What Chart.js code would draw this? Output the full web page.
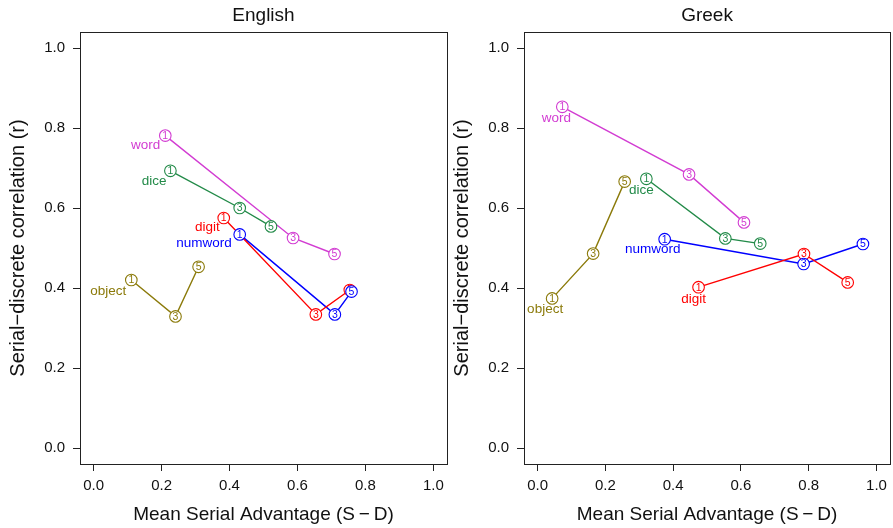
<!DOCTYPE html>
<html>
<head>
<meta charset="utf-8">
<script src="https://cdn.jsdelivr.net/npm/chart.js@4.4.1/dist/chart.umd.min.js"></script>
<style>
  html, body { margin: 0; padding: 0; background: #ffffff; }
  #wrap { position: relative; width: 893px; height: 528px; overflow: hidden; background: #fff; }
  canvas { position: absolute; top: 0; }
</style>
</head>
<body>
<div id="wrap">
  <canvas id="cEn" width="460" height="528" style="left:0px;width:460px;height:528px"></canvas>
  <canvas id="cGr" width="453" height="528" style="left:440px;width:453px;height:528px"></canvas>
</div>
<script>
// ---------- data ----------
const conditions = ["word", "dice", "digit", "numword", "object"];
const pointNumbers = ["1", "3", "5"];
const xTicks = [0.0, 0.2, 0.4, 0.6, 0.8, 1.0];
const yTicks = [0.0, 0.2, 0.4, 0.6, 0.8, 1.0];

// English panel
const enWordX    = [0.211, 0.587, 0.709];
const enWordY    = [0.781, 0.525, 0.485];
const enDiceX    = [0.226, 0.430, 0.522];
const enDiceY    = [0.693, 0.600, 0.554];
const enDigitX   = [0.383, 0.654, 0.754];
const enDigitY   = [0.575, 0.334, 0.395];
const enNumwordX = [0.430, 0.710, 0.759];
const enNumwordY = [0.534, 0.334, 0.391];
const enObjectX  = [0.111, 0.241, 0.309];
const enObjectY  = [0.420, 0.329, 0.453];

// Greek panel
const grWordX    = [0.073, 0.447, 0.609];
const grWordY    = [0.853, 0.684, 0.564];
const grDiceX    = [0.321, 0.554, 0.657];
const grDiceY    = [0.673, 0.524, 0.511];
const grDigitX   = [0.475, 0.786, 0.915];
const grDigitY   = [0.402, 0.485, 0.414];
const grNumwordX = [0.375, 0.785, 0.960];
const grNumwordY = [0.522, 0.460, 0.510];
const grObjectX  = [0.043, 0.164, 0.257];
const grObjectY  = [0.374, 0.486, 0.666];

// ---------- styles ----------
const colors = {
  word: "#D23CD2",
  dice: "#228A48",
  digit: "#FF0000",
  numword: "#0000FF",
  object: "#8B7A0A"
};
const FONT = "'Liberation Sans', Arial, Helvetica, sans-serif";

function buildDatasets(series) {
  return conditions.map(name => {
    const xs = series[name][0], ys = series[name][1];
    return {
      label: name,
      data: xs.map((x, i) => ({ x: x, y: ys[i] })),
      showLine: true,
      borderColor: colors[name],
      backgroundColor: colors[name],
      borderWidth: 1.4,
      pointRadius: 0,
      pointHoverRadius: 0,
      tension: 0,
      clip: false
    };
  });
}

const panelPlugin = {
  id: 'panel',
  afterDatasetsDraw(chart, args, opts) {
    const ctx = chart.ctx;
    const n = chart.data.datasets.length;
    for (let d = 0; d < n; d++) {
      const ds = chart.data.datasets[d];
      const meta = chart.getDatasetMeta(d);
      meta.data.forEach((pt, i) => {
        ctx.save();
        ctx.beginPath();
        ctx.arc(pt.x, pt.y, 5.8, 0, Math.PI * 2);
        ctx.fillStyle = '#ffffff';
        ctx.fill();
        ctx.lineWidth = 1.1;
        ctx.strokeStyle = ds.borderColor;
        ctx.stroke();
        ctx.fillStyle = ds.borderColor;
        ctx.font = "10.5px " + FONT;
        ctx.textAlign = 'center';
        ctx.textBaseline = 'middle';
        ctx.fillText(pointNumbers[i], pt.x, pt.y + 0.5);
        ctx.restore();
      });
      const lab = opts.labels[ds.label];
      const p0 = meta.data[0];
      ctx.save();
      ctx.fillStyle = ds.borderColor;
      ctx.font = "13.5px " + FONT;
      ctx.textAlign = opts.labelAlign;
      ctx.textBaseline = 'middle';
      ctx.fillText(ds.label, p0.x + lab[0], p0.y + lab[1]);
      ctx.restore();
    }
  },
  afterDraw(chart, args, opts) {
    const ctx = chart.ctx;
    const a = chart.chartArea;
    ctx.save();
    ctx.strokeStyle = '#222';
    ctx.lineWidth = 1;
    ctx.strokeRect(Math.round(a.left) + 0.5, Math.round(a.top) + 0.5,
                   Math.round(a.right - a.left), Math.round(a.bottom - a.top));
    ctx.fillStyle = '#111';
    const cx = (a.left + a.right) / 2;
    ctx.textAlign = 'center';
    ctx.textBaseline = 'middle';
    ctx.font = "19px " + FONT;
    ctx.fillText(opts.title, cx, 16);
    ctx.fillText("Mean Serial Advantage (S\u2009\u2212\u2009D)", cx, 515);
    ctx.save();
    ctx.translate(a.left - 62, (a.top + a.bottom) / 2);
    ctx.rotate(-Math.PI / 2);
    ctx.font = "20px " + FONT;
    ctx.fillText("Serial\u2212discrete correlation (r)", 0, 0);
    ctx.restore();
    ctx.restore();
  }
};

function makeChart(id, series, title, yWidth, rightPad, labels, labelAlign) {
  const ctx = document.getElementById(id).getContext('2d');
  return new Chart(ctx, {
    type: 'scatter',
    data: { datasets: buildDatasets(series) },
    options: {
      responsive: false,
      animation: false,
      events: [],
      layout: { padding: { left: 0, right: rightPad, top: 32, bottom: 0 } },
      plugins: {
        legend: { display: false },
        tooltip: { enabled: false },
        title: { display: false },
        panel: { title: title, labels: labels, labelAlign: labelAlign }
      },
      scales: {
        x: {
          type: 'linear',
          min: -0.04, max: 1.04,
          afterFit(scale) { scale.height = 64; },
          afterBuildTicks(scale) { scale.ticks = xTicks.map(v => ({ value: v })); },
          border: { display: false },
          grid: { drawOnChartArea: false, drawTicks: true, tickLength: 7, color: '#222', tickWidth: 1 },
          ticks: {
            color: '#111', padding: 6,
            font: { family: FONT, size: 15 },
            maxRotation: 0, autoSkip: false,
            callback: v => Number(v).toFixed(1)
          }
        },
        y: {
          type: 'linear',
          min: -0.04, max: 1.04,
          afterFit(scale) { scale.width = yWidth; },
          afterBuildTicks(scale) { scale.ticks = yTicks.map(v => ({ value: v })); },
          border: { display: false },
          grid: { drawOnChartArea: false, drawTicks: true, tickLength: 7, color: '#222', tickWidth: 1 },
          ticks: {
            color: '#111', padding: 8,
            font: { family: FONT, size: 15 },
            autoSkip: false,
            callback: v => Number(v).toFixed(1)
          }
        }
      }
    },
    plugins: [panelPlugin]
  });
}

const enSeries = {
  word: [enWordX, enWordY], dice: [enDiceX, enDiceY], digit: [enDigitX, enDigitY],
  numword: [enNumwordX, enNumwordY], object: [enObjectX, enObjectY]
};
const grSeries = {
  word: [grWordX, grWordY], dice: [grDiceX, grDiceY], digit: [grDigitX, grDigitY],
  numword: [grNumwordX, grNumwordY], object: [grObjectX, grObjectY]
};

// label offsets (pixels) relative to first point
const enLabelPos = { word: [-5, 10], dice: [-4, 10], digit: [-4, 9], numword: [-8, 9], object: [-5, 11] };
const grLabelPos = { word: [-6, 11], dice: [-5, 11], digit: [-5, 12], numword: [-12, 10], object: [-7, 11] };

makeChart('cEn', enSeries, 'English', 80, 13, enLabelPos, 'right');
makeChart('cGr', grSeries, 'Greek', 84, 2, grLabelPos, 'center');
</script>
</body>
</html>
